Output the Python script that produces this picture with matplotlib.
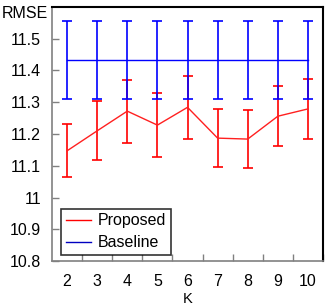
import matplotlib
matplotlib.use("Agg")
import matplotlib.pyplot as plt
from matplotlib.lines import Line2D
import numpy as np

plt.rcParams['font.family'] = ['Liberation Sans', 'DejaVu Sans']

K = [2, 3, 4, 5, 6, 7, 8, 9, 10]
proposed = [11.147, 11.210, 11.272, 11.228, 11.284, 11.187, 11.184, 11.256, 11.279]
proposed_err = [0.083, 0.093, 0.099, 0.100, 0.099, 0.092, 0.092, 0.095, 0.095]
baseline = [11.433] * 9
baseline_err = [0.122] * 9

yticks = [10.8, 10.9, 11.0, 11.1, 11.2, 11.3, 11.4, 11.5]
ytick_labels = ['10.8', '10.9', '11', '11.1', '11.2', '11.3', '11.4', '11.5']

fig = plt.figure(figsize=(3.29, 3.05), dpi=100)
ax = fig.add_axes([52/329, 1 - 261/305, (323 - 52)/329, (261 - 7)/305])

ax.errorbar(K, proposed, yerr=proposed_err, color='#ff2020', ecolor='#ff0000',
            lw=1, elinewidth=1.2, capsize=3.5, capthick=1.2)
ax.errorbar(K, baseline, yerr=baseline_err, color='#0000ff', ecolor='#0000ff',
            lw=1, elinewidth=1.2, capsize=3.5, capthick=1.2)

ax.set_xlim(1.5, 10.5)
ax.set_ylim(10.8, 11.6)
ax.set_xticks(K)
ax.set_xticklabels([str(k) for k in K])
ax.set_xticks(np.arange(2.5, 10.6, 1.0), minor=True)
ax.set_yticks(yticks)
ax.set_yticklabels(ytick_labels)

ax.tick_params(axis='x', which='major', length=0, pad=9, labelsize=11.5)
ax.tick_params(axis='x', which='minor', direction='in', length=5, color='#808080', width=1)
ax.tick_params(axis='y', which='major', direction='in', length=5, color='#808080', width=1,
               labelsize=11.5, pad=8)

for s in ['left', 'bottom']:
    ax.spines[s].set_color('#808080')
    ax.spines[s].set_linewidth(1.2)
for s in ['top', 'right']:
    ax.spines[s].set_color('black')
    ax.spines[s].set_linewidth(1.5)

fig.text(188/329, 1 - 299/305, 'K', fontsize=10.5, va='center', ha='center')
fig.text(2/329, 1 - 13/305, 'RMSE', fontsize=11.5, va='center', ha='left')

handles = [Line2D([], [], color='#ff0000', lw=1), Line2D([], [], color='#0000c0', lw=1)]
leg = ax.legend(handles, ['Proposed', 'Baseline'], loc='lower left',
                bbox_to_anchor=(9/271, 6/254), fontsize=11.5,
                frameon=True, fancybox=False, edgecolor='black', borderpad=0.3,
                handlelength=1.6, handletextpad=0.4, labelspacing=0.42, borderaxespad=0)
leg.get_frame().set_linewidth(1.2)

fig.savefig('out.png', dpi=100)
